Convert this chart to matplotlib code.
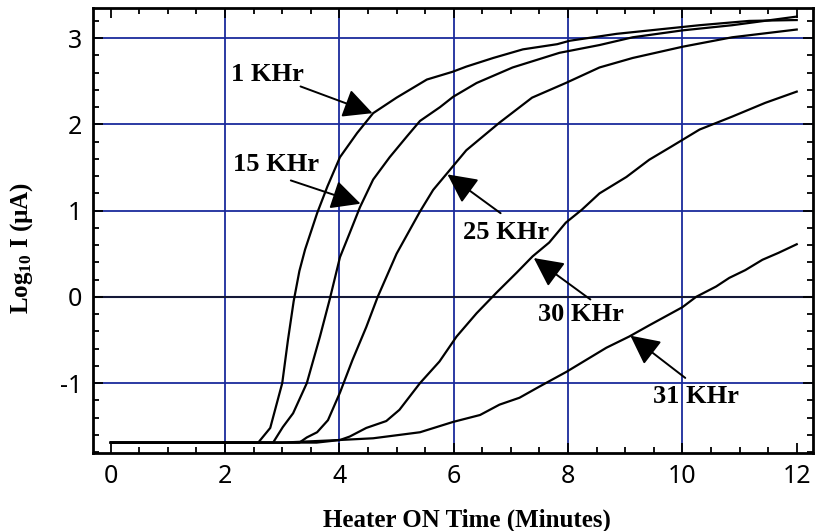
import matplotlib
matplotlib.use("Agg")

import matplotlib.pyplot as plt
from matplotlib.ticker import MultipleLocator

plt.rcParams["mathtext.fontset"] = "custom"
plt.rcParams["mathtext.rm"] = "Liberation Serif:bold"
plt.rcParams["mathtext.default"] = "rm"
plt.rcParams["axes.unicode_minus"] = False  # 마이너스 대신 하이픈

# 곡선 데이터 (가열 시간[분], log10 전류)
x_1k = [0, 2.58, 2.79, 3.0, 3.1, 3.2, 3.3, 3.4, 3.61, 3.79, 4.01, 4.31, 4.59, 5.0, 5.53,
        5.98, 6.22, 6.69, 7.21, 7.81, 8.03, 8.85, 9.72, 10.3, 11.17, 12.0]
y_1k = [-1.69, -1.69, -1.52, -1.0, -0.5, -0.05, 0.3, 0.55, 0.97, 1.28, 1.62, 1.90, 2.13, 2.31, 2.52,
        2.61, 2.67, 2.77, 2.87, 2.93, 2.97, 3.05, 3.11, 3.15, 3.20, 3.21]

x_15k = [0, 2.84, 3.01, 3.19, 3.43, 3.66, 3.83, 4.01, 4.18, 4.36, 4.59, 4.88, 5.18, 5.41,
         5.76, 5.99, 6.4, 7.03, 7.85, 8.55, 9.13, 10.0, 10.87, 12.0]
y_15k = [-1.69, -1.69, -1.51, -1.35, -1.0, -0.46, -0.03, 0.46, 0.74, 1.04, 1.36, 1.62, 1.86, 2.04,
         2.2, 2.32, 2.48, 2.66, 2.83, 2.92, 3.01, 3.09, 3.15, 3.25]

x_25k = [0, 3.3, 3.43, 3.61, 3.8, 4.01, 4.23, 4.47, 4.67, 5.0, 5.41, 5.64, 5.88, 6.22,
         6.8, 7.37, 7.96, 8.55, 9.13, 10.0, 10.87, 12.0]
y_25k = [-1.69, -1.69, -1.63, -1.57, -1.43, -1.11, -0.73, -0.35, 0.0, 0.5, 0.99, 1.24, 1.43, 1.7,
         2.02, 2.31, 2.48, 2.66, 2.77, 2.9, 3.01, 3.1]

x_30k = [0, 3.6, 4.01, 4.18, 4.47, 4.82, 5.05, 5.41, 5.75, 6.05, 6.4, 6.75, 7.1, 7.38, 7.67,
         7.96, 8.24, 8.55, 9.02, 9.42, 9.8, 10.3, 10.87, 11.45, 12.0]
y_30k = [-1.69, -1.69, -1.66, -1.62, -1.52, -1.44, -1.31, -1.0, -0.75, -0.46, -0.19, 0.05, 0.28, 0.47, 0.63,
         0.86, 1.01, 1.2, 1.39, 1.59, 1.74, 1.94, 2.09, 2.25, 2.38]

x_31k = [0, 3.0, 4.0, 4.59, 5.06, 5.41, 5.7, 5.99, 6.46, 6.8, 7.15, 7.5, 7.97, 8.32, 8.67,
         9.07, 9.42, 10.0, 10.24, 10.59, 10.82, 11.1, 11.4, 11.68, 12.0]
y_31k = [-1.69, -1.69, -1.66, -1.64, -1.6, -1.57, -1.51, -1.45, -1.37, -1.25, -1.17, -1.04, -0.87, -0.73, -0.59,
         -0.46, -0.33, -0.12, 0.0, 0.12, 0.22, 0.31, 0.43, 0.51, 0.61]

curves = [(x_1k, y_1k), (x_15k, y_15k), (x_25k, y_25k), (x_30k, y_30k), (x_31k, y_31k)]

# 라벨: (텍스트, 텍스트 위치, 화살표 꼬리, 화살표 머리)
labels = ["1 KHr", "15 KHr", "25 KHr", "30 KHr", "31 KHr"]
label_pos = [(2.1, 2.58), (2.13, 1.53), (6.17, 0.75), (7.48, -0.2), (9.49, -1.16)]
arrow_tail = [(3.32, 2.44), (3.15, 1.35), (6.82, 0.97), (8.39, -0.03), (10.05, -0.94)]
arrow_head = [(4.58, 2.13), (4.37, 1.08), (5.89, 1.42), (7.4, 0.45), (9.09, -0.45)]

GRID = "#1a2b9c"

fig = plt.figure(figsize=(8.16, 5.31), dpi=100)
ax = fig.add_axes([0.114, 0.147, 0.882, 0.838])

# 격자선
for gx in [2, 4, 6, 8, 10]:
    ax.axvline(gx, color=GRID, lw=1.3, zorder=1)
for gy in [-1, 1, 2, 3]:
    ax.axhline(gy, color=GRID, lw=1.3, zorder=1)
ax.axhline(0, color="#141838", lw=1.5, zorder=1)

for xs, ys in curves:
    ax.plot(xs, ys, color="black", lw=1.6, zorder=3)

for txt, tp, tail, head in zip(labels, label_pos, arrow_tail, arrow_head):
    ax.text(tp[0], tp[1], txt, fontsize=19, fontweight="bold", family="Liberation Serif",
            ha="left", va="center", zorder=4)
    ax.annotate("", xy=head, xytext=tail,
                arrowprops=dict(arrowstyle="-|>,head_length=0.9,head_width=0.45",
                                mutation_scale=20, color="black", lw=1.4,
                                shrinkA=0, shrinkB=0),
                zorder=4)

ax.set_xlim(-0.31, 12.28)
ax.set_ylim(-1.81, 3.35)

ax.xaxis.set_major_locator(MultipleLocator(2))
ax.xaxis.set_minor_locator(MultipleLocator(0.5))
ax.yaxis.set_major_locator(MultipleLocator(1))
ax.yaxis.set_minor_locator(MultipleLocator(0.2))
ax.tick_params(which="both", direction="in", top=True, right=True, width=1.3, color="black")
ax.tick_params(which="major", length=7, labelsize=18, pad=8)
ax.tick_params(which="minor", length=4)
for lab in ax.get_xticklabels() + ax.get_yticklabels():
    lab.set_family("Noto Sans")

for sp in ax.spines.values():
    sp.set_linewidth(2)
    sp.set_color("black")

ax.set_xlabel("Heater ON Time (Minutes)", fontsize=18, fontweight="bold", family="Liberation Serif")
ax.set_ylabel("Log$_{10}$ I (µA)", fontsize=18, fontweight="bold", family="Liberation Serif")
ax.xaxis.set_label_coords(0.52, -0.125)
ax.yaxis.set_label_coords(-0.08, 0.46)

fig.savefig("out.png", dpi=100)
plt.close(fig)
